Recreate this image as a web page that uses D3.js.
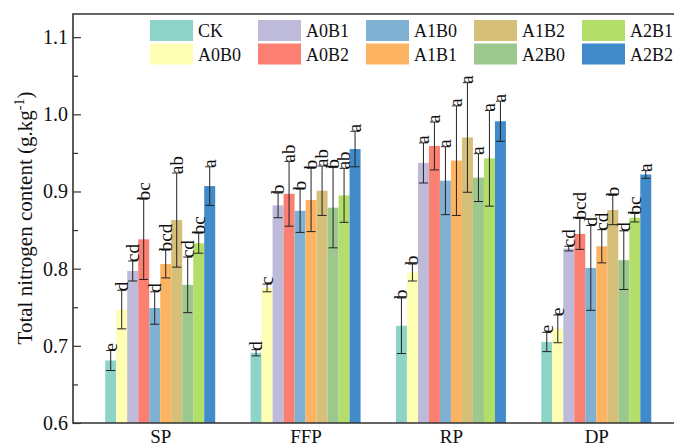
<!DOCTYPE html>
<html><head><meta charset="utf-8">
<script src="https://cdn.jsdelivr.net/npm/d3@7/dist/d3.min.js"></script>
<style>body{margin:0;background:#fff}svg{display:block;font-family:"Liberation Serif","Times New Roman",serif}</style>
</head><body><svg id="c" width="674" height="448"></svg>
<script>
const groups = ["SP", "FFP", "RP", "DP"];
const series = ["CK", "A0B0", "A0B1", "A0B2", "A1B0", "A1B1", "A1B2", "A2B0", "A2B1", "A2B2"];
const colors = ["#8dd3c7", "#ffffb3", "#bebada", "#fb8072", "#80b1d3", "#fdb462", "#d6bf78", "#9cc78d", "#b3de69", "#418bcb"];
const meanSP  = [0.681, 0.747, 0.797, 0.838, 0.749, 0.806, 0.863, 0.779, 0.833, 0.907];
const meanFFP = [0.691, 0.775, 0.882, 0.897, 0.875, 0.889, 0.901, 0.879, 0.895, 0.955];
const meanRP  = [0.726, 0.795, 0.937, 0.959, 0.914, 0.940, 0.970, 0.918, 0.943, 0.991];
const meanDP  = [0.705, 0.722, 0.826, 0.845, 0.801, 0.829, 0.876, 0.811, 0.866, 0.922];
const errSP  = [0.013, 0.025, 0.013, 0.052, 0.021, 0.018, 0.061, 0.036, 0.013, 0.025];
const errFFP = [0.004, 0.005, 0.016, 0.042, 0.028, 0.041, 0.032, 0.052, 0.035, 0.023];
const errRP  = [0.036, 0.011, 0.026, 0.031, 0.044, 0.071, 0.071, 0.031, 0.062, 0.026];
const errDP  = [0.0125, 0.018, 0.003, 0.020, 0.055, 0.0215, 0.019, 0.038, 0.0055, 0.005];
const letSP  = ["e", "d", "cd", "bc", "d", "bcd", "ab", "cd", "bc", "a"];
const letFFP = ["d", "c", "b", "ab", "b", "b", "ab", "b", "ab", "a"];
const letRP  = ["b", "b", "a", "a", "a", "a", "a", "a", "a", "a"];
const letDP  = ["e", "e", "cd", "bcd", "d", "cd", "b", "d", "bc", "a"];
const yMajor = [0.6, 0.7, 0.8, 0.9, 1.0, 1.1];
const yMinor = [0.65, 0.75, 0.85, 0.95, 1.05];

const means = [meanSP, meanFFP, meanRP, meanDP];
const errs = [errSP, errFFP, errRP, errDP];
const lets = [letSP, letFFP, letRP, letDP];
const rows = [];
groups.forEach((g, gi) => series.forEach((s, si) => rows.push({g, s, si, v: means[gi][si], e: errs[gi][si], l: lets[gi][si]})));

const svg = d3.select("#c");
const L = 73, T = 14, B = 423, R = 683.5;
const y = d3.scaleLinear().domain([0.6, 1.13]).range([B, T]);
const x = d3.scalePoint().domain(groups).range([L, R]).padding(0.6);
const xi = d3.scaleBand().domain(series).range([-55, 55]);
const col = d3.scaleOrdinal().domain(series).range(colors);

// bars
svg.append("g").selectAll("rect").data(rows).join("rect")
  .attr("x", d => x(d.g) + xi(d.s))
  .attr("y", d => y(d.v))
  .attr("width", xi.bandwidth())
  .attr("height", d => y(0.6) - y(d.v))
  .attr("fill", d => col(d.s));

// error bars
const eg = svg.append("g").attr("stroke", "#222").attr("stroke-width", 1);
rows.forEach(d => {
  const cx = x(d.g) + xi(d.s) + xi.bandwidth() / 2;
  eg.append("line").attr("x1", cx).attr("x2", cx).attr("y1", y(d.v + d.e)).attr("y2", y(d.v - d.e));
  eg.append("line").attr("x1", cx - 4.5).attr("x2", cx + 4.5).attr("y1", y(d.v + d.e)).attr("y2", y(d.v + d.e));
  eg.append("line").attr("x1", cx - 4.5).attr("x2", cx + 4.5).attr("y1", y(d.v - d.e)).attr("y2", y(d.v - d.e));
});

// letters
svg.append("g").selectAll("text").data(rows).join("text")
  .attr("transform", d => `translate(${x(d.g) + xi(d.s) + xi.bandwidth() / 2 + 6},${y(d.v + d.e) + 1}) rotate(-90)`)
  .attr("font-size", 19).attr("fill", "#111")
  .text(d => d.l);

// frame
svg.append("path").attr("d", `M${R + 20},${T}H${L}V${B}H${R + 20}`).attr("fill", "none").attr("stroke", "#333").attr("stroke-width", 1.6);

// y axis
const ya = svg.append("g").attr("transform", `translate(${L},0)`)
  .call(d3.axisLeft(y).tickValues(yMajor).tickFormat(d3.format(".1f")).tickSizeInner(-8).tickSizeOuter(0).tickPadding(5));
ya.select(".domain").remove();
ya.selectAll("line").attr("stroke", "#333").attr("stroke-width", 1.2);
ya.selectAll("text").attr("font-size", 20).attr("fill", "#111").attr("font-family", "Liberation Serif");
const ym = svg.append("g").attr("transform", `translate(${L},0)`)
  .call(d3.axisLeft(y).tickValues(yMinor).tickFormat("").tickSizeInner(-5).tickSizeOuter(0));
ym.select(".domain").remove();
ym.selectAll("line").attr("stroke", "#333").attr("stroke-width", 1.2);

// x axis
const xa = svg.append("g").attr("transform", `translate(0,${B})`)
  .call(d3.axisBottom(x).tickSize(0).tickPadding(7));
xa.select(".domain").remove();
xa.selectAll("text").attr("font-size", 19).attr("fill", "#111").attr("font-family", "Liberation Serif");

// y title
const tt = svg.append("text").attr("transform", "translate(32,218) rotate(-90)")
  .attr("text-anchor", "middle").attr("font-size", 21).attr("fill", "#111");
tt.append("tspan").text("Total nitrogen content (g.kg");
tt.append("tspan").attr("font-size", 14).attr("dy", -8).text("-1");
tt.append("tspan").attr("dy", 8).text(")");

// legend
const lg = svg.append("g");
series.forEach((s, i) => {
  const c = Math.floor(i / 2), r = i % 2;
  const gx = 150 + c * 108, gy = 20 + r * 23.5;
  lg.append("rect").attr("x", gx).attr("y", gy).attr("width", 43).attr("height", 21).attr("fill", col(s));
  lg.append("text").attr("x", gx + 48).attr("y", gy + 17).attr("font-size", 18).attr("fill", "#111").text(s);
});
</script></body></html>
